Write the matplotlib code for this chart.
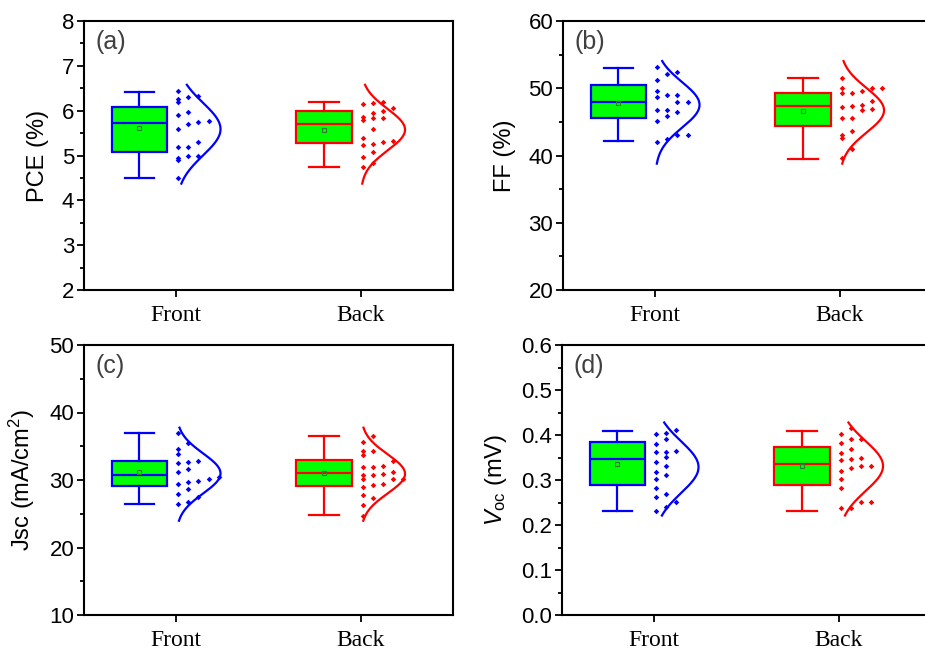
import numpy as np
import matplotlib
matplotlib.use('Agg')
import matplotlib.pyplot as plt
from matplotlib.ticker import MultipleLocator, FormatStrFormatter

plt.rcParams['font.family'] = ['Liberation Sans', 'DejaVu Sans']
plt.rcParams['mathtext.fontset'] = 'custom'
plt.rcParams['mathtext.rm'] = 'Liberation Sans'
plt.rcParams['mathtext.it'] = 'Liberation Sans:italic'

groups = ['Front', 'Back']

# raw points
pce_front = [6.44, 6.33, 6.25, 6.20, 6.30, 5.98, 5.90, 5.75, 5.78, 5.70, 5.59, 5.29,
             5.18, 5.18, 4.99, 4.90, 4.99, 4.94, 4.49]
pce_back = [6.20, 6.14, 6.16, 6.05, 6.00, 5.94, 5.85, 5.79, 5.83, 5.83, 5.58, 5.40,
            5.33, 5.29, 5.26, 5.23, 5.08, 4.97, 4.83, 4.75]
ff_front = [53.1, 52.1, 51.3, 52.4, 49.6, 49.0, 49.0, 48.7, 48.0, 48.0, 46.8, 46.8,
            46.5, 45.9, 45.2, 43.05, 43.05, 42.45, 42.05]
ff_back = [51.5, 50.0, 49.6, 50.0, 50.0, 49.3, 49.25, 48.15, 47.36, 47.26, 47.5, 46.9,
           46.7, 45.6, 45.6, 43.6, 42.55, 43.05, 40.9, 39.6]
jsc_front = [36.9, 35.53, 34.6, 33.85, 32.86, 32.47, 32.7, 31.63, 31.14, 30.1, 29.85,
             29.75, 30.44, 29.45, 28.67, 27.93, 27.48, 26.7, 26.4]
jsc_back = [36.5, 35.7, 34.3, 34.3, 33.7, 32.8, 32.1, 31.9, 31.9, 31.23, 30.9, 30.74,
            30.74, 30.1, 30.1, 30.1, 29.0, 29.4, 29.26, 27.8, 27.3, 26.3, 24.7]
voc_front = [0.411, 0.404, 0.402, 0.391, 0.380, 0.365, 0.362, 0.362, 0.352, 0.341,
             0.331, 0.318, 0.311, 0.302, 0.282, 0.270, 0.262, 0.252, 0.241, 0.232]
voc_back = [0.415, 0.402, 0.391, 0.391, 0.382, 0.370, 0.361, 0.348, 0.344, 0.331,
            0.346, 0.326, 0.331, 0.321, 0.302, 0.282, 0.252, 0.252, 0.237, 0.237]

# box stats: whislo, q1, med, q3, whishi, mean
pce_box = [[4.50, 5.08, 5.73, 6.09, 6.42, 5.61], [4.75, 5.27, 5.70, 5.99, 6.19, 5.57]]
ff_box = [[42.16, 45.53, 48.0, 50.48, 52.97, 47.76], [39.52, 44.39, 47.36, 49.25, 51.48, 46.67]]
jsc_box = [[26.44, 29.11, 30.79, 32.86, 36.92, 31.14], [24.77, 29.11, 31.04, 32.96, 36.52, 31.0]]
voc_box = [[0.231, 0.290, 0.346, 0.385, 0.410, 0.335], [0.231, 0.290, 0.336, 0.374, 0.410, 0.331]]

colors = ['#0000FF', '#FF0000']
W, H = 925, 657


def swarm_x(vals, pos, bw):
    vals = np.asarray(vals)
    bins = np.floor((vals - vals.min()) / bw).astype(int)
    xs = np.zeros(len(vals))
    for b in np.unique(bins):
        idx = np.where(bins == b)[0]
        idx = idx[np.argsort(vals[idx])]
        for k, i in enumerate(idx):
            xs[i] = pos + 0.01 + (k % 5) * 0.055
    return xs


def draw_panel(ax, pts, box, ylim, step, ylabel, tag, fmt):
    stats = []
    for b in box:
        stats.append({'whislo': b[0], 'q1': b[1], 'med': b[2], 'q3': b[3],
                      'whishi': b[4], 'mean': b[5], 'fliers': []})
    positions = [0.8, 1.8]
    bp = ax.bxp(stats, positions=positions, widths=0.30, capwidths=0.16,
                showmeans=True, patch_artist=True, showfliers=False)
    for i, c in enumerate(colors):
        bp['boxes'][i].set(facecolor='#00FF00', edgecolor=c, linewidth=1.6)
        bp['medians'][i].set(color=c, linewidth=1.6)
        for ln in bp['whiskers'][2 * i:2 * i + 2] + bp['caps'][2 * i:2 * i + 2]:
            ln.set(color=c, linewidth=1.6)
        bp['means'][i].set(marker='s', markersize=3.5, markerfacecolor='none',
                           markeredgecolor='#2e7d32', markeredgewidth=0.8)

    allv = np.concatenate([pts[0], pts[1]])
    span = allv.max() - allv.min()
    lo, hi = allv.min() - 0.06 * span, allv.max() + 0.07 * span
    bw = span / 9
    for i, c in enumerate(colors):
        v = np.asarray(pts[i])
        base = i + 1.0
        ax.scatter(swarm_x(v, base, bw), v, marker='D', s=8, color=c, linewidths=0, zorder=3)
        yy = np.linspace(lo, hi, 200)
        m, sd = v.mean(), v.std(ddof=1)
        pdf = np.exp(-0.5 * ((yy - m) / sd) ** 2)
        ax.plot(base + 0.24 * pdf, yy, color=c, linewidth=1.6)

    ax.set_xlim(0.5, 2.5)
    ax.set_ylim(*ylim)
    ax.set_xticks([1, 2])
    ax.set_xticklabels(groups, fontfamily='Liberation Serif', fontsize=17)
    ax.yaxis.set_major_locator(MultipleLocator(step))
    ax.yaxis.set_minor_locator(MultipleLocator(step / 2))
    ax.yaxis.set_major_formatter(FormatStrFormatter(fmt))
    ax.tick_params(axis='y', which='major', length=5, width=1.3, labelsize=16, pad=2)
    ax.tick_params(axis='y', which='minor', length=3, width=1.3)
    ax.tick_params(axis='x', which='major', length=5, width=1.3, pad=6)
    for s in ax.spines.values():
        s.set_linewidth(1.5)
    ax.set_ylabel(ylabel, fontsize=17, labelpad=9)
    ax.text(0.03, 0.965, tag, transform=ax.transAxes, ha='left', va='top',
            fontsize=18, color='#404040')


def add_axes(fig, left, top, right, bottom):
    return fig.add_axes([left / W, 1 - bottom / H, (right - left) / W, (bottom - top) / H])


fig = plt.figure(figsize=(W / 100, H / 100), dpi=100)
ax_a = add_axes(fig, 84, 21, 453, 290)
ax_b = add_axes(fig, 563, 21, 932, 290)
ax_c = add_axes(fig, 84, 345, 453, 615)
ax_d = add_axes(fig, 562, 345, 931, 615)

draw_panel(ax_a, [pce_front, pce_back], pce_box, (2, 8), 1, 'PCE (%)', '(a)', '%d')
draw_panel(ax_b, [ff_front, ff_back], ff_box, (20, 60), 10, 'FF (%)', '(b)', '%d')
draw_panel(ax_c, [jsc_front, jsc_back], jsc_box, (10, 50), 10, 'Jsc (mA/cm$^2$)', '(c)', '%d')
draw_panel(ax_d, [voc_front, voc_back], voc_box, (0, 0.6), 0.1, r'$V_{\rm oc}$ (mV)', '(d)', '%.1f')

fig.savefig('out.png', dpi=100)
